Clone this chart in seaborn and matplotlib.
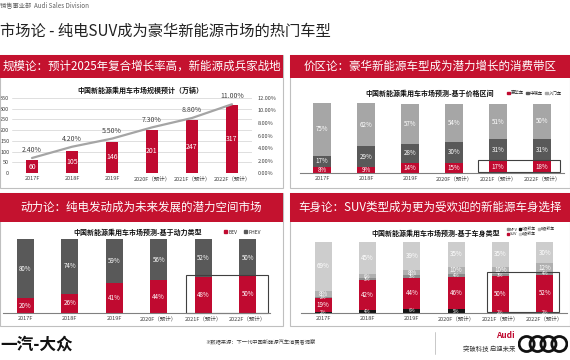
import numpy as np
import pandas as pd
import seaborn as sns
import matplotlib.pyplot as plt
from matplotlib.patches import Rectangle, Patch, Circle

# ---- data ----
years = ["2017F", "2018F", "2019F", "2020F（预计）", "2021F（预计）", "2022F（预计）"]

scale_units = [60, 105, 146, 201, 247, 317]          # 万辆
scale_share = [2.4, 4.2, 5.5, 7.3, 8.8, 11.0]        # %

price_luxury = [8, 9, 14, 15, 17, 18]
price_mid = [17, 29, 28, 30, 31, 31]
price_entry = [75, 62, 57, 54, 51, 50]
price_names = ["豪华车", "中端车", "入门车"]

power_bev = [20, 26, 41, 44, 48, 50]
power_phev = [80, 74, 59, 56, 52, 50]
power_names = ["BEV", "PHEV"]

body_c = [2, 4, 6, 5, 2, 2]
body_suv = [19, 42, 44, 46, 50, 52]
body_mpv = [2, 3, 3, 4, 3, 4]
body_b = [8, 6, 8, 10, 10, 12]
body_a = [69, 45, 39, 35, 35, 30]

RED = "#C00A30"
HEAD = "#C4122F"
DARK = "#595959"
LIGHT = "#A6A6A6"
TXT = "#404040"

W, H = 570, 360

sns.set_theme(style="white")
plt.rcParams["font.family"] = ["Noto Sans CJK SC", "DejaVu Sans"]
plt.rcParams["axes.unicode_minus"] = False

fig = plt.figure(figsize=(5.7, 3.6), dpi=100)
fig.patch.set_facecolor("white")


def box(x0, y0, x1, y1):
    return [x0 / W, 1 - y1 / H, (x1 - x0) / W, (y1 - y0) / H]


def ftext(x, y, s, **kw):
    fig.text(x / W, 1 - y / H, s, **kw)


def panel(x0, y0, x1, y1, head_bottom, title):
    fig.add_artist(Rectangle((x0 / W, 1 - y1 / H), (x1 - x0) / W, (y1 - y0) / H,
                             transform=fig.transFigure, fill=False,
                             ec="#BFBFBF", lw=0.8))
    fig.add_artist(Rectangle((x0 / W, 1 - head_bottom / H), (x1 - x0) / W,
                             (head_bottom - y0) / H, transform=fig.transFigure,
                             fc=HEAD, ec="none"))
    ftext((x0 + x1) / 2, (y0 + head_bottom) / 2, title, color="white",
          fontsize=8.3, ha="center", va="center")


# ---- slide header / panels ----
ftext(0, 5, "销售事业部  Audi Sales Division", fontsize=4.5, color="#606060",
      va="center")
ftext(0, 31, "市场论 - 纯电SUV成为豪华新能源市场的热门车型", fontsize=11,
      color="#222222", va="center")

panel(0, 55, 283, 188, 78, "规模论：预计2025年复合增长率高，新能源成兵家战地")
panel(290, 55, 570, 188, 78, "价区论：豪华新能源车型成为潜力增长的消费带区")
panel(0, 193, 283, 326, 222, "动力论：纯电发动成为未来发展的潜力空间市场")
panel(290, 193, 570, 326, 222, "车身论：SUV类型成为更为受欢迎的新能源车身选择")


def style_stack(ax):
    ax.set_ylim(0, 100)
    ax.set_xlim(-0.5, 5.5)
    ax.set_xlabel("")
    ax.set_ylabel("")
    ax.set_yticks([])
    for s in ["top", "left", "right"]:
        ax.spines[s].set_visible(False)
    ax.spines["bottom"].set_color("#808080")
    ax.spines["bottom"].set_linewidth(0.8)
    ax.tick_params(axis="x", labelsize=4, colors=TXT, length=0, pad=2)
    ax.set_facecolor("none")


def stack(ax, series, colors, width):
    df = pd.DataFrame(dict(zip(range(len(series)), series)), index=years)
    cum = df.cumsum(axis=1)
    for k in reversed(range(len(series))):
        sns.barplot(x=years, y=cum[k].values, color=colors[k], width=width,
                    saturation=1, linewidth=0, errorbar=None, ax=ax)
    for k in range(len(series)):
        mids = cum[k] - df[k] / 2
        for i, (m, v) in enumerate(zip(mids, df[k])):
            ax.text(i, m, f"{v}%", ha="center", va="center",
                    fontsize=4.5 if v >= 8 else 3.2, color="white")
    style_stack(ax)


# ---- chart 1: market size ----
ax1 = fig.add_axes(box(12, 98, 252, 173))
sns.barplot(x=years, y=scale_units, color=RED, width=0.32, saturation=1,
            linewidth=0, errorbar=None, ax=ax1)
ax1.set_ylim(0, 350)
ax1.set_xlim(-0.5, 5.5)
ax1.set_yticks(range(0, 351, 50))
ax1.yaxis.grid(True, color="#D9D9D9", lw=0.6)
ax1.set_axisbelow(True)
for s in ax1.spines.values():
    s.set_visible(False)
ax1.tick_params(axis="both", labelsize=4, colors=TXT, length=0, pad=2)
for i, v in enumerate(scale_units):
    ax1.text(i, v / 2, str(v), ha="center", va="center", fontsize=5,
             color="white")
ax1b = ax1.twinx()
sns.lineplot(x=np.arange(len(years)), y=scale_share, color="#A5A5A5", lw=1.6,
             ax=ax1b)
ax1b.set_ylim(0, 12)
ax1b.set_yticks(range(0, 13, 2))
ax1b.set_yticklabels([f"{t:.2f}%" for t in range(0, 13, 2)])
for s in ax1b.spines.values():
    s.set_visible(False)
ax1b.tick_params(axis="y", labelsize=4, colors=TXT, length=0, pad=4)
for i, v in enumerate(scale_share):
    ax1b.text(i, v + 0.6, f"{v:.2f}%", ha="center", va="bottom", fontsize=5,
              color=TXT)
ftext(140, 90, "中国新能源乘用车市场规模预计（万辆）", fontsize=5,
      fontweight="bold", ha="center", va="center", color="#111111")

# ---- chart 2: price range ----
ax2 = fig.add_axes(box(300, 103, 564, 173))
stack(ax2, [price_luxury, price_mid, price_entry], [RED, DARK, LIGHT], 0.39)
ax2.add_patch(Rectangle((3.55, 2), 1.86, 17, fill=False, ec="#404040",
                        lw=0.8, clip_on=False))
ftext(430, 93, "中国新能源乘用车市场预测-基于价格区间", fontsize=5,
      fontweight="bold", ha="center", va="center", color="#111111")
ax2.legend(handles=[Patch(color=c, label=n) for c, n in
                    zip([RED, DARK, LIGHT], price_names)],
           loc="center left", bbox_to_anchor=(505 / W, 1 - 93 / H),
           bbox_transform=fig.transFigure, ncol=3, fontsize=3.2,
           frameon=False, handlelength=0.6, handleheight=0.6,
           handletextpad=0.2, columnspacing=0.5, borderpad=0)

# ---- chart 3: power type ----
ax3 = fig.add_axes(box(3, 239, 270, 313))
stack(ax3, [power_bev, power_phev], [RED, DARK], 0.38)
ax3.add_patch(Rectangle((3.61, 0), 1.84, 51, fill=False, ec="#404040",
                        lw=0.8, clip_on=False))
ftext(138, 232, "中国新能源乘用车市场预测-基于动力类型", fontsize=5,
      fontweight="bold", ha="center", va="center", color="#111111")
ax3.legend(handles=[Patch(color=c, label=n) for c, n in
                    zip([RED, DARK], power_names)],
           loc="center left", bbox_to_anchor=(222 / W, 1 - 232 / H),
           bbox_transform=fig.transFigure, ncol=2, fontsize=3.5,
           frameon=False, handlelength=0.6, handleheight=0.6,
           handletextpad=0.2, columnspacing=1.5, borderpad=0)

# ---- chart 4: body type ----
ax4 = fig.add_axes(box(301, 242, 567, 313))
stack(ax4, [body_c, body_suv, body_mpv, body_b, body_a],
      ["#151515", RED, "#8C8C8C", "#B0B0B0", "#CDCDCD"], 0.38)
ax4.add_patch(Rectangle((3.69, 1), 1.64, 57, fill=False, ec="#404040",
                        lw=0.8, clip_on=False))
ftext(436, 233, "中国新能源乘用车市场预测-基于车身类型", fontsize=5,
      fontweight="bold", ha="center", va="center", color="#111111")
ax4.legend(handles=[Patch(color=c, label=n) for c, n in
                    zip(["#8C8C8C", RED, "#151515", "#CDCDCD", "#B0B0B0"],
                        ["MPV", "SUV", "C级轿车", "A级轿车", "B级轿车"])],
           loc="center left", bbox_to_anchor=(505 / W, 1 - 232 / H),
           bbox_transform=fig.transFigure, ncol=3, fontsize=2.8,
           frameon=False, handlelength=0.5, handleheight=0.5,
           handletextpad=0.2, columnspacing=0.5, labelspacing=0.2,
           borderpad=0)

# ---- footer ----
ftext(0, 345, "一汽-大众", fontsize=12, fontweight="bold", color="#111111",
      va="center")
ftext(205, 342, "※数据来源：下一代中国新能源汽车消费者洞察", fontsize=3.8,
      color="#404040", va="center")
fig.add_artist(plt.Line2D([435 / W, 435 / W], [1 - 332 / H, 1 - 354 / H],
                          transform=fig.transFigure, color="#BFBFBF", lw=0.6))
ftext(515, 336, "Audi", fontsize=6, fontweight="bold", color=RED,
      ha="right", va="center")
ftext(515, 349, "突破科技 启迪未来", fontsize=4.6, color="#333333",
      ha="right", va="center")
axr = fig.add_axes(box(518, 332, 568, 356))
for c in range(4):
    axr.add_patch(Circle((c * 1.45, 0), 1, fill=False, ec="#111111", lw=2))
axr.set_xlim(-1.15, 4.35 + 1.15)
axr.set_ylim(-1.15, 1.15)
axr.set_aspect("equal")
axr.axis("off")

fig.savefig("out.png", dpi=100, facecolor="white")
